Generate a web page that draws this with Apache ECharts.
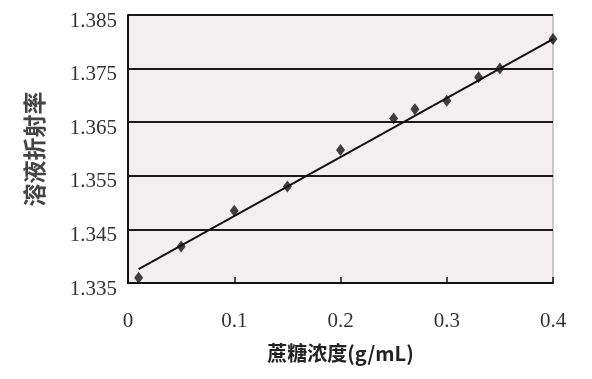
<!DOCTYPE html>
<html>
<head>
<meta charset="utf-8">
<script src="https://cdn.jsdelivr.net/npm/echarts@6/dist/echarts.min.js"></script>
<style>html,body{margin:0;padding:0;background:#fff}#c{width:592px;height:379px}</style>
</head>
<body>
<div id="c"></div>
<script>
var concentration = [0.01, 0.05, 0.10, 0.15, 0.20, 0.25, 0.27, 0.30, 0.33, 0.35, 0.40];
var refractive = [1.3360, 1.3418, 1.3485, 1.3530, 1.3598, 1.3657, 1.3674, 1.3690, 1.3734, 1.3750, 1.3805];
var fitX = [0.01, 0.40];
var fitY = [1.3376, 1.3805];
var xTicks = ['0', '0.1', '0.2', '0.3', '0.4'];
var yTicks = ['1.335', '1.345', '1.355', '1.365', '1.375', '1.385'];

var chart = echarts.init(document.getElementById('c'), null, {renderer: 'canvas'});
var pts = concentration.map(function (x, i) { return [x, refractive[i]]; });
var fit = fitX.map(function (x, i) { return [x, fitY[i]]; });
var serif = '"Liberation Serif", "DejaVu Serif", serif';
var cjk = '"Noto Sans CJK SC", sans-serif';
chart.setOption({
  animation: false,
  backgroundColor: '#fff',
  grid: {left: 128, right: 39, top: 15, bottom: 96, show: true,
         backgroundColor: '#f3eff0', borderColor: '#9a9a9a', borderWidth: 1},
  xAxis: {
    type: 'value', min: 0, max: 0.4, interval: 0.1,
    name: '蔗糖浓度(g/mL)', nameLocation: 'middle', nameGap: 60,
    nameTextStyle: {fontFamily: cjk, fontSize: 20, fontWeight: 'bold', color: '#222'},
    axisLine: {show: true, lineStyle: {color: '#111', width: 2}},
    axisTick: {show: true, inside: true, length: 6, lineStyle: {color: '#111', width: 1.5}},
    axisLabel: {fontFamily: serif, fontSize: 21, color: '#333', margin: 28,
      formatter: function (v) { return xTicks[Math.round(v * 10)]; }},
    splitLine: {show: false}
  },
  yAxis: {
    type: 'value', min: 1.335, max: 1.385, interval: 0.01,
    name: '溶液折射率', nameLocation: 'middle', nameGap: 82, nameRotate: 90,
    nameTextStyle: {fontFamily: cjk, fontSize: 23, fontWeight: 'bold', color: '#444'},
    axisLine: {show: true, lineStyle: {color: '#111', width: 2}},
    axisTick: {show: false},
    axisLabel: {fontFamily: serif, fontSize: 21, color: '#333', margin: 11,
      verticalAlign: 'top', lineHeight: 12,
      formatter: function (v) { return yTicks[Math.round((v - 1.335) * 100)]; }},
    splitLine: {show: true, lineStyle: {color: '#1a1a1a', width: 2}}
  },
  series: [
    {type: 'line', data: fit, symbol: 'none', lineStyle: {color: '#111', width: 2}, z: 3},
    {type: 'scatter', data: pts, symbol: 'diamond', symbolSize: [9, 12],
     itemStyle: {color: '#111'}, z: 4}
  ]
});
</script>
</body>
</html>
